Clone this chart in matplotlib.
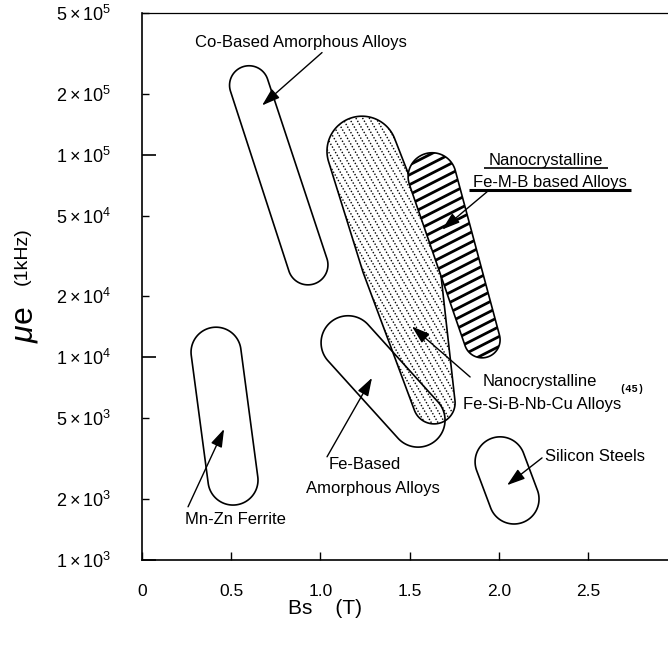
import numpy as np
import matplotlib
matplotlib.use("Agg")
import matplotlib.pyplot as plt
from matplotlib.patches import Polygon
from matplotlib.collections import LineCollection
from matplotlib.ticker import FixedLocator, FixedFormatter

plt.rcParams['font.family'] = 'Liberation Sans'
plt.rcParams['mathtext.fontset'] = 'custom'
plt.rcParams['mathtext.rm'] = 'Liberation Sans'
plt.rcParams['mathtext.it'] = 'Liberation Sans:italic'

# points along the long axis of each region (Bs in T, effective permeability at 1 kHz)
co_bs = [0.60, 0.93]
co_mu = [2.2e5, 2.86e4]
mnzn_bs = [0.415, 0.51]
mnzn_mu = [1.06e4, 2.48e3]
feam_bs = [1.155, 1.547]
feam_mu = [1.18e4, 4.9e3]
sisteel_bs = [2.007, 2.085]
sisteel_mu = [3.05e3, 2.0e3]
fesib_bs = [1.233, 1.446, 1.637]
fesib_mu = [1.04e5, 3.03e4, 5.96e3]
femb_bs = [1.626, 1.906]
femb_mu = [7.78e4, 1.22e4]

xticks = [0, 0.5, 1.0, 1.5, 2.0, 2.5]
xticklabels = ['0', '0.5', '1.0', '1.5', '2.0', '2.5']
ymajor = [1e3, 1e4, 1e5]
yminor = [2e3, 5e3, 2e4, 5e4, 2e5, 5e5]


def sci(v):
    e = int(np.floor(np.log10(v) + 1e-9))
    m = int(round(v / 10**e))
    return r'$%d\times10^{%d}$' % (m, e)


fig = plt.figure(figsize=(6.68, 6.46), dpi=100)
ax = fig.add_axes([142/668, 86/646, 526/668, 547/646])
ax.set_yscale('log')
ax.set_xlim(0, 2.948)
ax.set_ylim(1e3, 5e5)

# axes look
ax.spines['right'].set_visible(False)
ax.spines['left'].set_linewidth(1.2)
ax.spines['bottom'].set_linewidth(1.2)
ax.spines['top'].set_linewidth(0.9)
ax.xaxis.set_major_locator(FixedLocator(xticks))
ax.xaxis.set_major_formatter(FixedFormatter(xticklabels))
ax.yaxis.set_major_locator(FixedLocator(ymajor))
ax.yaxis.set_major_formatter(FixedFormatter([sci(v) for v in ymajor]))
ax.yaxis.set_minor_locator(FixedLocator(yminor))
ax.yaxis.set_minor_formatter(FixedFormatter([sci(v) for v in yminor]))
ax.tick_params(axis='x', which='major', direction='in', length=6, width=1.0,
               labelsize=12.5, pad=17, top=False)
ax.tick_params(axis='y', which='major', direction='in', length=10, width=1.2,
               labelsize=13, pad=22, right=False)
ax.tick_params(axis='y', which='minor', direction='in', length=5, width=1.0,
               labelsize=13, pad=22, right=False)

fig.text(325/668, 1 - 609/646, 'Bs    (T)', fontsize=15, ha='center', va='center')
fig.text(25/668, 1 - 325/646, r'$\mu$e', fontsize=23, rotation=90,
         ha='center', va='center')
fig.text(22/668, 1 - 256/646, '(1kHz)', fontsize=14, rotation=90,
         ha='center', va='center')


def convex_hull(p):
    p = p[np.lexsort((p[:, 1], p[:, 0]))]

    def half(pts):
        out = []
        for q in pts:
            while len(out) >= 2:
                a, b = out[-2], out[-1]
                if (b[0]-a[0])*(q[1]-a[1]) - (b[1]-a[1])*(q[0]-a[0]) <= 0:
                    out.pop()
                else:
                    break
            out.append(q)
        return out
    lo = half(p)
    up = half(p[::-1])
    return np.array(lo[:-1] + up[:-1])


def region(bs, mu, radii, fill='none', z=3):
    # rounded outline around the axis points, built in screen space
    c = ax.transData.transform(np.column_stack([bs, mu]))
    t = np.linspace(0, 2*np.pi, 160, endpoint=False)
    ring = np.column_stack([np.cos(t), np.sin(t)])
    pts = np.vstack([ci + r*ring for ci, r in zip(c, radii)])
    h = convex_hull(pts)
    poly = Polygon(ax.transData.inverted().transform(h), closed=True,
                   fc=fill, ec='k', lw=1.2, zorder=z)
    ax.add_patch(poly)
    return poly, h


def hatch(poly, h, angle, step, **kw):
    a = np.radians(angle)
    d = np.array([np.cos(a), np.sin(a)])
    n = np.array([-np.sin(a), np.cos(a)])
    off = h @ n
    along = h @ d
    segs = []
    for o in np.arange(off.min() + step/2, off.max(), step):
        seg = np.array([o*n + along.min()*d, o*n + along.max()*d])
        segs.append(ax.transData.inverted().transform(seg))
    lc = LineCollection(segs, **kw)
    ax.add_collection(lc, autolim=False)
    lc.set_clip_path(poly)


# radii in pixels
region(co_bs, co_mu, [19.5, 20])
region(mnzn_bs, mnzn_mu, [25, 25])
region(sisteel_bs, sisteel_mu, [25, 25])
p, h = region(fesib_bs, fesib_mu, [35, 39, 21], z=2)
hatch(p, h, -60, 5.8, colors='k', linewidths=1.0,
      linestyles=[(0, (1.0, 1.3))], zorder=1.5)
region(feam_bs, feam_mu, [27, 27])
p, h = region(femb_bs, femb_mu, [24, 18], fill='white', z=4)
hatch(p, h, 27, 8.8, colors='k', linewidths=2.0, zorder=4.5)

arr = dict(arrowstyle='-|>,head_length=0.55,head_width=0.18', mutation_scale=20,
           color='k', lw=1.0, shrinkA=0, shrinkB=0)
fs = 12

ax.text(0.297, 3.57e5, 'Co-Based Amorphous Alloys', fontsize=fs, ha='left', va='center')
ax.annotate('', xy=(0.673, 1.75e5), xytext=(1.009, 3.19e5), arrowprops=arr, zorder=6)

ax.text(0.521, 1.58e3, 'Mn-Zn Ferrite', fontsize=fs, ha='center', va='center')
ax.annotate('', xy=(0.460, 4.43e3), xytext=(0.258, 1.83e3), arrowprops=arr, zorder=6)

ax.text(1.251, 2.95e3, 'Fe-Based', fontsize=fs, ha='center', va='center')
ax.text(1.295, 2.25e3, 'Amorphous Alloys', fontsize=fs, ha='center', va='center')
ax.annotate('', xy=(1.289, 7.92e3), xytext=(1.037, 3.23e3), arrowprops=arr, zorder=6)

ax.text(2.231, 7.57e3, 'Nanocrystalline', fontsize=fs, ha='center', va='center')
ax.text(2.242, 5.82e3, 'Fe-Si-B-Nb-Cu Alloys', fontsize=fs, ha='center', va='center')
ax.text(2.747, 6.98e3, '(45)', fontsize=7.5, ha='center', va='center',
        family='Liberation Mono', weight='bold')
ax.annotate('', xy=(1.513, 1.42e4), xytext=(1.839, 8.0e3), arrowprops=arr, zorder=6)

ax.text(2.259, 3.23e3, 'Silicon Steels', fontsize=fs, ha='left', va='center')
ax.annotate('', xy=(2.046, 2.34e3), xytext=(2.242, 3.19e3), arrowprops=arr, zorder=6)

t1 = ax.text(2.265, 8.93e4, 'Nanocrystalline', fontsize=fs, ha='center', va='baseline')
t2 = ax.text(2.287, 6.95e4, 'Fe-M-B based Alloys', fontsize=fs, ha='center', va='baseline')
ax.annotate('', xy=(1.682, 4.27e4), xytext=(1.934, 6.56e4), arrowprops=arr, zorder=6)

# underline the Fe-M-B caption
fig.canvas.draw()
inv = ax.transData.inverted()
for t, ext, lw in [(t1, 5, 1.2), (t2, 4, 2.2)]:
    bb = t.get_window_extent()
    base = ax.transData.transform(t.get_position())[1]
    seg = inv.transform([[bb.x0 - ext, base - 3], [bb.x1 + ext, base - 3]])
    ax.plot(seg[:, 0], seg[:, 1], color='k', lw=lw, solid_capstyle='butt', zorder=6)

fig.savefig('out.png', dpi=100)
